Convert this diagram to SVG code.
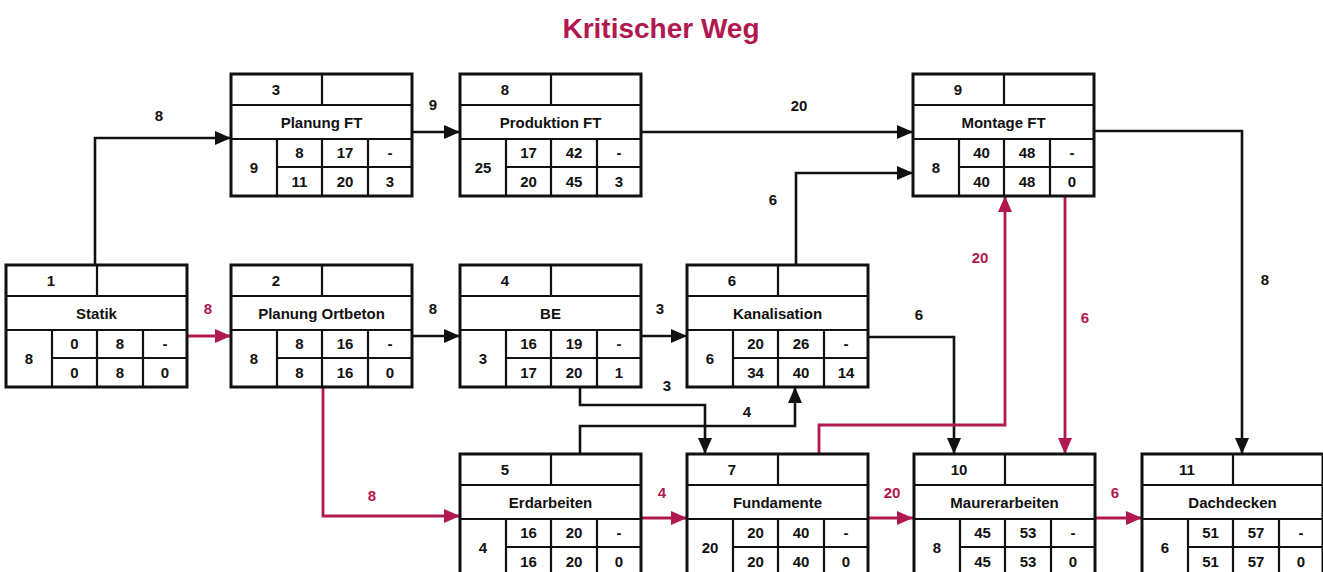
<svg xmlns="http://www.w3.org/2000/svg" width="1323" height="572" viewBox="0 0 1323 572">
<defs>
<style>
text{font-family:"Liberation Sans",Arial,sans-serif;font-weight:bold;font-size:15px;text-anchor:middle;fill:#111}
.title{font-size:28px;fill:#B0184F}
.box{fill:#fff;stroke:#111;stroke-width:3}
.grid{fill:none;stroke:#111;stroke-width:2.2}
.c{fill:none;stroke:#111;stroke-width:2.6}
.cr{fill:none;stroke:#B0184F;stroke-width:2.8}
.lr{fill:#B0184F}
</style>
<marker id="ab" viewBox="0 0 16 14" refX="16" refY="7" markerWidth="16" markerHeight="14" markerUnits="userSpaceOnUse" orient="auto"><path d="M0,0L16,7L0,14z" fill="#111"/></marker>
<marker id="ar" viewBox="0 0 16 14" refX="16" refY="7" markerWidth="16" markerHeight="14" markerUnits="userSpaceOnUse" orient="auto"><path d="M0,0L16,7L0,14z" fill="#B0184F"/></marker>
<g id="tpl">
<rect x="0" y="0" width="181" height="122" class="box"/>
<path class="grid" d="M0,31H181M0,65H181M46,93H181M91,0V31M46,65V122M91,65V122M137,65V122"/>
</g>
</defs>
<rect width="1323" height="572" fill="#fff"/>
<text x="661" y="38" class="title">Kritischer Weg</text>

<g id="connectors">
<path class="c" marker-end="url(#ab)" d="M95,265V138H231"/>
<path class="c" marker-end="url(#ab)" d="M412,132H460"/>
<path class="c" marker-end="url(#ab)" d="M641,132H913"/>
<path class="c" marker-end="url(#ab)" d="M412,336H460"/>
<path class="c" marker-end="url(#ab)" d="M641,336H687"/>
<path class="c" marker-end="url(#ab)" d="M796,265V173H913"/>
<path class="c" marker-end="url(#ab)" d="M868,337H954V454"/>
<path class="c" marker-end="url(#ab)" d="M1094,131H1242V454"/>
<path class="c" marker-end="url(#ab)" d="M580,387V405H705V454"/>
<path class="c" marker-end="url(#ab)" d="M580,454V426H795V387"/>
<path class="cr" marker-end="url(#ar)" d="M187,336H231"/>
<path class="cr" marker-end="url(#ar)" d="M323,387V516H460"/>
<path class="cr" marker-end="url(#ar)" d="M641,518H687"/>
<path class="cr" marker-end="url(#ar)" d="M868,518H913"/>
<path class="cr" marker-end="url(#ar)" d="M1095,518H1142"/>
<path class="cr" marker-end="url(#ar)" d="M1065,196V454"/>
<path class="cr" marker-end="url(#ar)" d="M819,454V425H1005V196"/>
<text x="159" y="121">8</text>
<text x="433" y="110">9</text>
<text x="799" y="111">20</text>
<text x="433" y="314">8</text>
<text x="660" y="314">3</text>
<text x="773" y="205">6</text>
<text x="919" y="320">6</text>
<text x="1265" y="285">8</text>
<text x="667" y="391">3</text>
<text x="747" y="417">4</text>
<text x="208" y="314" class="lr">8</text>
<text x="372" y="501" class="lr">8</text>
<text x="662" y="498" class="lr">4</text>
<text x="892" y="498" class="lr">20</text>
<text x="1115" y="498" class="lr">6</text>
<text x="980" y="263" class="lr">20</text>
<text x="1085" y="323" class="lr">6</text>
</g>

<g id="node1" transform="translate(6,265)"><use href="#tpl"/>
<text x="45" y="21">1</text><text x="90.5" y="54">Statik</text><text x="23" y="99">8</text>
<text x="68.5" y="84">0</text><text x="114" y="84">8</text><text x="159" y="84">-</text>
<text x="68.5" y="113">0</text><text x="114" y="113">8</text><text x="159" y="113">0</text></g>

<g id="node2" transform="translate(231,265)"><use href="#tpl"/>
<text x="45" y="21">2</text><text x="90.5" y="54">Planung Ortbeton</text><text x="23" y="99">8</text>
<text x="68.5" y="84">8</text><text x="114" y="84">16</text><text x="159" y="84">-</text>
<text x="68.5" y="113">8</text><text x="114" y="113">16</text><text x="159" y="113">0</text></g>

<g id="node3" transform="translate(231,74)"><use href="#tpl"/>
<text x="45" y="21">3</text><text x="90.5" y="54">Planung FT</text><text x="23" y="99">9</text>
<text x="68.5" y="84">8</text><text x="114" y="84">17</text><text x="159" y="84">-</text>
<text x="68.5" y="113">11</text><text x="114" y="113">20</text><text x="159" y="113">3</text></g>

<g id="node8" transform="translate(460,74)"><use href="#tpl"/>
<text x="45" y="21">8</text><text x="90.5" y="54">Produktion FT</text><text x="23" y="99">25</text>
<text x="68.5" y="84">17</text><text x="114" y="84">42</text><text x="159" y="84">-</text>
<text x="68.5" y="113">20</text><text x="114" y="113">45</text><text x="159" y="113">3</text></g>

<g id="node4" transform="translate(460,265)"><use href="#tpl"/>
<text x="45" y="21">4</text><text x="90.5" y="54">BE</text><text x="23" y="99">3</text>
<text x="68.5" y="84">16</text><text x="114" y="84">19</text><text x="159" y="84">-</text>
<text x="68.5" y="113">17</text><text x="114" y="113">20</text><text x="159" y="113">1</text></g>

<g id="node6" transform="translate(687,265)"><use href="#tpl"/>
<text x="45" y="21">6</text><text x="90.5" y="54">Kanalisation</text><text x="23" y="99">6</text>
<text x="68.5" y="84">20</text><text x="114" y="84">26</text><text x="159" y="84">-</text>
<text x="68.5" y="113">34</text><text x="114" y="113">40</text><text x="159" y="113">14</text></g>

<g id="node9" transform="translate(913,74)"><use href="#tpl"/>
<text x="45" y="21">9</text><text x="90.5" y="54">Montage FT</text><text x="23" y="99">8</text>
<text x="68.5" y="84">40</text><text x="114" y="84">48</text><text x="159" y="84">-</text>
<text x="68.5" y="113">40</text><text x="114" y="113">48</text><text x="159" y="113">0</text></g>

<g id="node5" transform="translate(460,454)"><use href="#tpl"/>
<text x="45" y="21">5</text><text x="90.5" y="54">Erdarbeiten</text><text x="23" y="99">4</text>
<text x="68.5" y="84">16</text><text x="114" y="84">20</text><text x="159" y="84">-</text>
<text x="68.5" y="113">16</text><text x="114" y="113">20</text><text x="159" y="113">0</text></g>

<g id="node7" transform="translate(687,454)"><use href="#tpl"/>
<text x="45" y="21">7</text><text x="90.5" y="54">Fundamente</text><text x="23" y="99">20</text>
<text x="68.5" y="84">20</text><text x="114" y="84">40</text><text x="159" y="84">-</text>
<text x="68.5" y="113">20</text><text x="114" y="113">40</text><text x="159" y="113">0</text></g>

<g id="node10" transform="translate(914,454)"><use href="#tpl"/>
<text x="45" y="21">10</text><text x="90.5" y="54">Maurerarbeiten</text><text x="23" y="99">8</text>
<text x="68.5" y="84">45</text><text x="114" y="84">53</text><text x="159" y="84">-</text>
<text x="68.5" y="113">45</text><text x="114" y="113">53</text><text x="159" y="113">0</text></g>

<g id="node11" transform="translate(1142,454)"><use href="#tpl"/>
<text x="45" y="21">11</text><text x="90.5" y="54">Dachdecken</text><text x="23" y="99">6</text>
<text x="68.5" y="84">51</text><text x="114" y="84">57</text><text x="159" y="84">-</text>
<text x="68.5" y="113">51</text><text x="114" y="113">57</text><text x="159" y="113">0</text></g>
</svg>
